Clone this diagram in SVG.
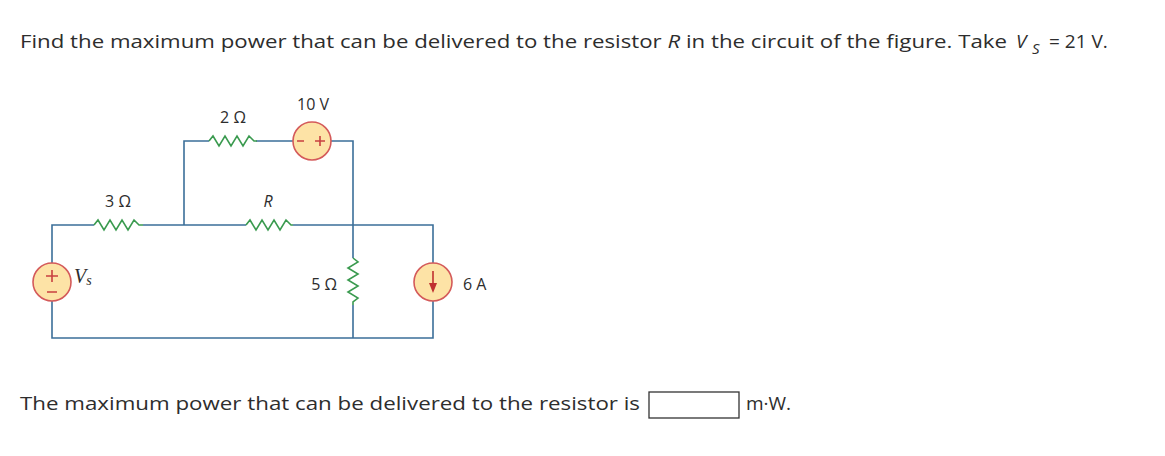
<svg xmlns="http://www.w3.org/2000/svg" width="1165" height="456" viewBox="0 0 1165 456">
<style>
.t{font-family:"Open Sans","Liberation Sans",Arial,sans-serif;fill:#2d2d2d}
.q{font-size:19px}
.l{font-size:16px}
.w{stroke:#3b6f99;stroke-width:1.6;fill:none}
.r{stroke:#3a9a4f;stroke-width:1.6;fill:none}
.s{fill:#fde3a6;stroke:#d45a5a;stroke-width:1.6}
.p{stroke:#c84040;stroke-width:1.6;fill:none}
</style>
<rect width="1165" height="456" fill="#fff"/>
<text class="t q" x="20" y="48" textLength="987" lengthAdjust="spacingAndGlyphs">Find the maximum power that can be delivered to the resistor <tspan font-style="italic">R</tspan> in the circuit of the figure. Take</text>
<text class="t q" x="1016" y="48" font-style="italic">V</text>
<text class="t" x="1032" y="54" font-size="15" font-style="italic">S</text>
<text class="t q" x="1049" y="48">= 21 V.</text>
<g id="connectors">
<path class="w" d="M52,263V225H94M143,225H246M293,225H433V263M433,301V338H52V301M184,225V141H209M256,141H293M331,141H353V258M353,305V338"/>
</g>
<g id="R3"><path class="r" d="M94,225l4,-5l6,10l6,-10l6,10l6,-10l6,10l6,-10l5,5h4"/><text class="t l" x="118" y="207" text-anchor="middle">3 Ω</text></g>
<g id="R2"><path class="r" d="M209,141l4,-5l6,10l6,-10l6,10l6,-10l6,10l6,-10l5,5h3"/><text class="t l" x="233" y="123" text-anchor="middle">2 Ω</text></g>
<g id="R"><path class="r" d="M246,225l4,-5l6,10l6,-10l6,10l6,-10l6,10l6,-10l5,5h2"/><text class="t l" x="268" y="207" text-anchor="middle" font-style="italic">R</text></g>
<g id="R5"><path class="r" d="M353,258l5,4l-10,6l10,6l-10,6l10,6l-10,6l10,6l-5,4v3"/><text class="t l" x="337" y="290" text-anchor="end">5 Ω</text></g>
<g id="V10"><circle class="s" cx="312" cy="141" r="19"/><path class="p" d="M297,141h7M315,141h10M320,136v10"/><text class="t l" x="313" y="110" text-anchor="middle">10 V</text></g>
<g id="Vs"><circle class="s" cx="52" cy="282" r="19"/><path class="p" d="M46,276h12M52,270v12M47,292h10"/><text x="74" y="283" font-family="Liberation Serif,serif" font-style="italic" font-size="20" fill="#2d2d2d">V<tspan font-size="14" dy="2">s</tspan></text></g>
<g id="I6"><circle class="s" cx="433" cy="282" r="19"/><path d="M433,271v14" stroke="#c03030" stroke-width="1.6"/><path d="M429,283l4,10l4,-10z" fill="#c03030"/><text class="t l" x="463" y="290">6 A</text></g>
<text class="t q" x="20" y="410" textLength="620" lengthAdjust="spacingAndGlyphs">The maximum power that can be delivered to the resistor is</text>
<rect x="649" y="392" width="90" height="26" fill="#fff" stroke="#333" stroke-width="1.3"/>
<text class="t q" x="746" y="410">m·W.</text>
</svg>
